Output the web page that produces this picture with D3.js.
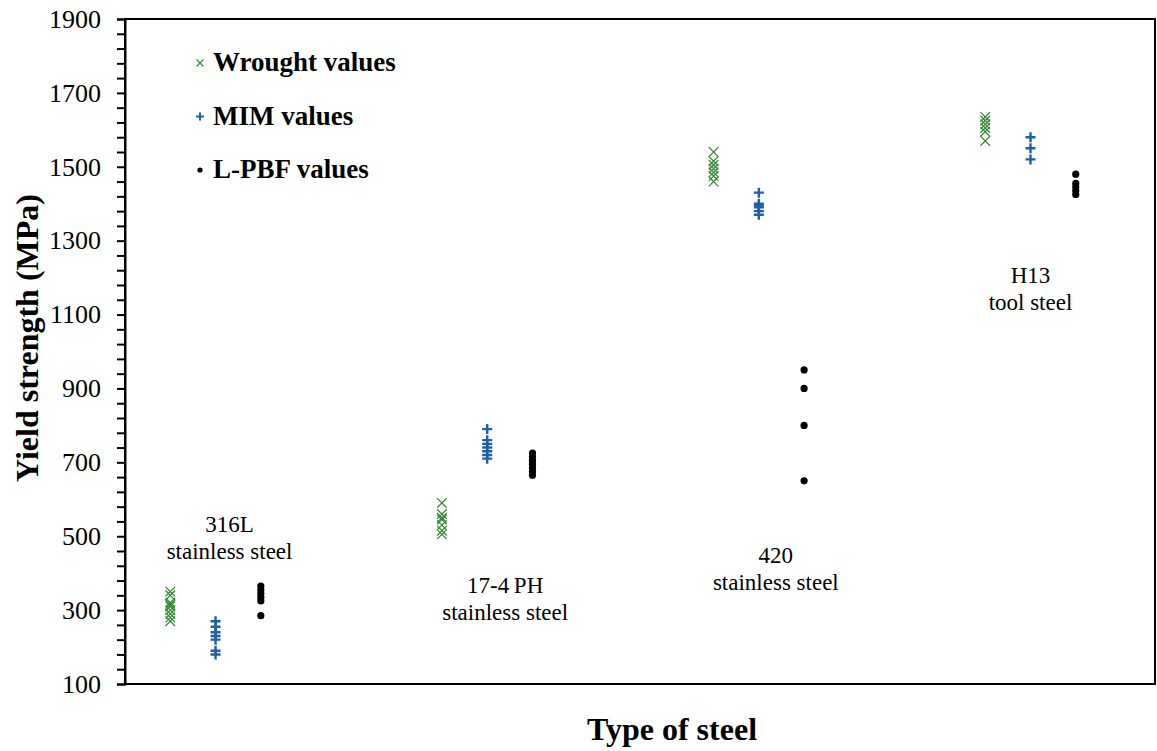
<!DOCTYPE html>
<html><head><meta charset="utf-8">
<script src="https://cdn.jsdelivr.net/npm/d3@7"></script>
<style>body{margin:0;background:#fff}svg{display:block}text{font-family:"Liberation Serif","Times New Roman",serif}</style>
</head><body>
<svg id="c" width="1157" height="751"></svg>
<script>
const categories = ["316L", "17-4 PH", "420", "H13"];
const series = ["Wrought values", "MIM values", "L-PBF values"];
const wrought = [
  [350, 340, 320, 315, 310, 300, 290, 280, 270],
  [590, 560, 550, 545, 530, 515, 505],
  [1540, 1515, 1505, 1495, 1485, 1475, 1460],
  [1635, 1625, 1615, 1605, 1595, 1570]
];
const mim = [
  [270, 255, 240, 230, 220, 190, 180],
  [790, 760, 750, 740, 730, 720, 710],
  [1430, 1400, 1395, 1390, 1380, 1370],
  [1580, 1550, 1520]
];
const lpbf = [
  [365, 355, 345, 335, 325, 285],
  [725, 715, 705, 695, 685, 675, 665],
  [950, 900, 800, 650],
  [1480, 1455, 1445, 1435, 1425]
];
const yTicks = [100, 300, 500, 700, 900, 1100, 1300, 1500, 1700, 1900];
const labels = [
  ["316L", "stainless steel"],
  ["17-4\u2009PH", "stainless steel"],
  ["420", "stainless steel"],
  ["H13", "tool steel"]
];
const labelY = [512, 345, 428, 1185]; // data-space y of first label line

const svg = d3.select("#c");
const L = 125, R = 1155, T = 19, B = 684;
const x = d3.scaleLinear().domain([0, 22.75]).range([L, R]);
const y = d3.scaleLinear().domain([100, 1900]).range([B, T]);
const pos = (g, s) => g * 6 + s + 1;
const labelDx = [14, 18, 17, 0];

// frame
svg.append("rect").attr("x", L).attr("y", T).attr("width", R - L).attr("height", B - T)
  .attr("fill", "none").attr("stroke", "#000").attr("stroke-width", 2);

// y axis
const yAxis = d3.axisLeft(y).tickValues(d3.range(100, 1901, 40)).tickSize(8)
  .tickFormat(d => yTicks.includes(d) ? d : "");
const ga = svg.append("g").attr("transform", `translate(${L},0)`).call(yAxis);
ga.select(".domain").attr("stroke-width", 2);
ga.selectAll(".tick line").attr("stroke-width", 2);
ga.selectAll(".tick text").attr("font-size", 26).attr("x", -24)
  .attr("font-family", "Liberation Serif").attr("fill", "#000");

// points
const pts = [];
[wrought, mim, lpbf].forEach((arr, s) => arr.forEach((vals, g) => vals.forEach(v => pts.push({g, s, v}))));

const green = "#2f852f", blue = "#1f5fa6";
const cross = (sel, sz, col, sw) => sel.append("path")
  .attr("d", `M${-sz},${-sz}L${sz},${sz}M${-sz},${sz}L${sz},${-sz}`)
  .attr("stroke", col).attr("stroke-width", sw).attr("fill", "none");
const plus = (sel, sz, col, sw) => sel.append("path")
  .attr("d", `M${-sz},0L${sz},0M0,${-sz}L0,${sz}`)
  .attr("stroke", col).attr("stroke-width", sw).attr("fill", "none");

const gp = svg.append("g");
pts.forEach(p => {
  const g = gp.append("g").attr("transform", `translate(${x(pos(p.g, p.s))},${y(p.v)})`);
  if (p.s === 0) cross(g, 4.8, green, 1.2);
  else if (p.s === 1) plus(g, 5, blue, 2.4);
  else g.append("circle").attr("r", 3.6).attr("fill", "#000");
});

// category labels
labels.forEach((ls, i) => {
  const cx = x(pos(i, 1)) + labelDx[i];
  const t = svg.append("text").attr("x", cx).attr("y", y(labelY[i]))
    .attr("text-anchor", "middle").attr("font-size", 23).attr("fill", "#000");
  ls.forEach((s, k) => t.append("tspan").attr("x", cx).attr("dy", k ? 27 : 0).text(s));
});

// legend
const lg = svg.append("g");
series.forEach((s, i) => {
  const cy = 63 + i * 53.5;
  const g = lg.append("g").attr("transform", `translate(200,${cy})`);
  if (i === 0) cross(g, 3.5, green, 1.1);
  else if (i === 1) plus(g, 4, blue, 2);
  else g.append("circle").attr("r", 2.6).attr("fill", "#000");
  lg.append("text").attr("x", 213).attr("y", cy + 8).attr("font-size", 27)
    .attr("font-weight", "bold").attr("fill", "#000").text(s);
});

// axis titles
svg.append("text").attr("x", 672).attr("y", 740).attr("text-anchor", "middle")
  .attr("font-size", 32).attr("font-weight", "bold").text("Type of steel");
svg.append("text").attr("transform", "translate(38,338) rotate(-90)").attr("text-anchor", "middle")
  .attr("font-size", 32).attr("font-weight", "bold").text("Yield strength (MPa)");
</script>
</body></html>
